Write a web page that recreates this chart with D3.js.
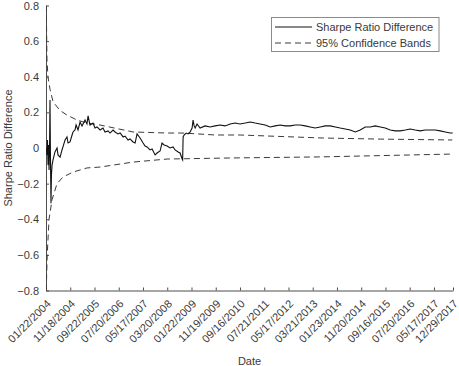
<!DOCTYPE html>
<html>
<head>
<meta charset="utf-8">
<script src="https://cdn.jsdelivr.net/npm/d3@7"></script>
<style>
    body { margin: 0; background: #fff; }
    svg { display: block; font-family: "Liberation Sans", Arial, sans-serif; }
</style>
</head>
<body>
<svg id="chart" width="459" height="366"></svg>
<script>
// observation index (trading days since 01/22/2004) and Sharpe ratio difference
const sharpeObs = [4, 8, 12, 17, 21, 25, 29, 33, 37, 41, 45, 50, 58, 74, 91, 99, 116, 132, 140, 157,
    173, 182, 198, 215, 223, 239, 248, 264, 281, 297, 322, 338, 347, 363, 388, 404, 421, 446, 470, 487,
    512, 528, 553, 570, 594, 611, 636, 652, 677, 693, 718, 735, 751, 776, 801, 817, 834, 858, 875, 900,
    916, 941, 957, 974, 999, 1023, 1048, 1065, 1090, 1106, 1123, 1127, 1131, 1139, 1156, 1172, 1189, 1205, 1213, 1222,
    1230, 1246, 1271, 1312, 1354, 1395, 1436, 1477, 1519, 1560, 1601, 1643, 1684, 1725, 1766, 1808, 1849, 1890,
    1931, 1973, 2014, 2055, 2097, 2138, 2179, 2220, 2262, 2303, 2344, 2386, 2427, 2468, 2509, 2551, 2592, 2633,
    2674, 2716, 2757, 2798, 2839, 2881, 2922, 2963, 3004, 3046, 3087, 3128, 3169, 3211, 3252, 3293, 3334, 3355];
const sharpeVal = [0, -0.039, 0.045, -0.096, 0.017, -0.124, -0.011, 0.27, -0.067, -0.31, -0.152, -0.096, -0.067, -0.022, 0, -0.039, -0.051, -0.011, 0.006, 0.045,
    0.062, 0.028, 0.034, 0.073, 0.09, 0.101, 0.129, 0.101, 0.146, 0.124, 0.157, 0.135, 0.18, 0.129, 0.14, 0.112, 0.118, 0.101, 0.112, 0.09,
    0.096, 0.084, 0.101, 0.09, 0.079, 0.084, 0.062, 0.067, 0.045, 0.051, 0.034, 0.028, 0.079, 0.056, 0.028, 0.011, 0.006, -0.011, -0.006, -0.039,
    -0.028, -0.017, 0.028, 0.017, 0.011, 0, 0.006, -0.011, -0.022, -0.028, -0.062, -0.067, 0.062, 0.073, 0.084, 0.079, 0.09, 0.112, 0.157, 0.124,
    0.112, 0.135, 0.112, 0.124, 0.118, 0.124, 0.129, 0.124, 0.135, 0.14, 0.135, 0.14, 0.146, 0.14, 0.135, 0.129, 0.118, 0.124,
    0.129, 0.124, 0.124, 0.129, 0.129, 0.124, 0.118, 0.112, 0.118, 0.124, 0.124, 0.118, 0.112, 0.107, 0.101, 0.09, 0.101,
    0.118, 0.118, 0.124, 0.118, 0.112, 0.101, 0.096, 0.096, 0.101, 0.107, 0.101, 0.096, 0.101, 0.101, 0.101, 0.096, 0.09, 0.084, 0.084];

// 95% confidence bands
const upperObs = [2, 8, 16, 33, 58, 116, 173, 256, 338, 446, 718, 999, 1131, 1395, 1601, 2286, 2757, 3351];
const upperVal = [0.8, 0.5, 0.4, 0.33, 0.26, 0.21, 0.185, 0.157, 0.14, 0.129, 0.09, 0.084, 0.084, 0.073, 0.073, 0.056, 0.05, 0.045];
const lowerObs = [2, 10, 25, 50, 91, 140, 223, 338, 446, 718, 999, 1519, 2262, 3351];
const lowerVal = [-0.8, -0.6, -0.4, -0.29, -0.2, -0.163, -0.135, -0.112, -0.107, -0.079, -0.062, -0.056, -0.05, -0.034];

// x ticks
const tickObs = [0, 200, 400, 600, 800, 1000, 1200, 1400, 1600, 1800, 2000, 2200, 2400, 2600, 2800, 3000, 3200, 3357];
const tickLabels = ["01/22/2004", "11/18/2004", "09/22/2005", "07/20/2006", "05/17/2007", "03/20/2008",
    "01/22/2009", "11/19/2009", "09/16/2010", "07/21/2011", "05/17/2012", "03/21/2013", "01/23/2014",
    "11/20/2014", "09/16/2015", "07/20/2016", "05/17/2017", "12/29/2017"];
const yTicks = [-0.8, -0.6, -0.4, -0.2, 0, 0.2, 0.4, 0.6, 0.8];

const legendItems = ["Sharpe Ratio Difference", "95% Confidence Bands"];

const plotLeft = 46, plotRight = 453, plotTop = 5.5, plotBottom = 290.5;
const axisColor = "#4d4d4d";
const textColor = "#3a3a3a";

const svg = d3.select("#chart");

const xScale = d3.scaleLinear().domain([0, 3357]).range([plotLeft, plotRight]);
const yScale = d3.scaleLinear().domain([-0.8, 0.8]).range([plotBottom, plotTop]);

svg.append("defs").append("clipPath").attr("id", "plotclip")
    .append("rect")
    .attr("x", plotLeft).attr("y", plotTop)
    .attr("width", plotRight - plotLeft).attr("height", plotBottom - plotTop);

// x-axis
const xAxis = svg.append("g")
    .attr("transform", `translate(0, ${plotBottom})`)
    .call(d3.axisBottom(xScale)
        .tickValues(tickObs)
        .tickSizeInner(-3)
        .tickSizeOuter(0)
        .tickFormat((d, i) => tickLabels[i]));
xAxis.select(".domain").attr("stroke", axisColor);
xAxis.selectAll(".tick line").attr("stroke", axisColor);
xAxis.selectAll(".tick text")
    .attr("x", 0).attr("y", 0).attr("dy", 0)
    .attr("text-anchor", "end")
    .attr("transform", "translate(5, 14) rotate(-45)")
    .attr("fill", textColor)
    .style("font-size", "11px");

// y-axis
const yAxis = svg.append("g")
    .attr("transform", `translate(${plotLeft}, 0)`)
    .call(d3.axisLeft(yScale)
        .tickValues(yTicks)
        .tickSizeInner(-3)
        .tickSizeOuter(0)
        .tickPadding(7)
        .tickFormat(d => d === 0 ? "0" : d3.format(".1f")(d)));
yAxis.select(".domain").attr("stroke", axisColor);
yAxis.selectAll(".tick line").attr("stroke", axisColor);
yAxis.selectAll(".tick text")
    .attr("fill", textColor)
    .style("font-size", "11px");

// axis titles
svg.append("text")
    .attr("x", (plotLeft + plotRight) / 2)
    .attr("y", 365)
    .attr("text-anchor", "middle")
    .attr("fill", textColor)
    .style("font-size", "11px")
    .text("Date");

svg.append("text")
    .attr("transform", `translate(12, ${(plotTop + plotBottom) / 2}) rotate(-90)`)
    .attr("text-anchor", "middle")
    .attr("fill", textColor)
    .style("font-size", "11px")
    .text("Sharpe Ratio Difference");

// lines
const line = d3.line()
    .x(d => xScale(d[0]))
    .y(d => yScale(d[1]));

const plot = svg.append("g").attr("clip-path", "url(#plotclip)");

plot.append("path")
    .datum(upperObs.map((o, i) => [o, upperVal[i]]))
    .attr("d", line)
    .attr("fill", "none")
    .attr("stroke", "#3a3a3a")
    .attr("stroke-width", 1)
    .attr("stroke-dasharray", "6,4");

plot.append("path")
    .datum(lowerObs.map((o, i) => [o, lowerVal[i]]))
    .attr("d", line)
    .attr("fill", "none")
    .attr("stroke", "#3a3a3a")
    .attr("stroke-width", 1)
    .attr("stroke-dasharray", "6,4");

plot.append("path")
    .datum(sharpeObs.map((o, i) => [o, sharpeVal[i]]))
    .attr("d", line)
    .attr("fill", "none")
    .attr("stroke", "#111")
    .attr("stroke-width", 1.1);

// legend
const legend = svg.append("g");
legend.append("rect")
    .attr("x", 271.5).attr("y", 17.5)
    .attr("width", 167.5).attr("height", 34)
    .attr("fill", "#fff")
    .attr("stroke", "#8a8a8a");

legendItems.forEach((label, i) => {
    const ly = 27 + i * 16;
    legend.append("line")
        .attr("x1", 275).attr("x2", 312)
        .attr("y1", ly).attr("y2", ly)
        .attr("stroke", i === 0 ? "#111" : "#3a3a3a")
        .attr("stroke-dasharray", i === 0 ? null : "6,4");
    legend.append("text")
        .attr("x", 316).attr("y", ly)
        .attr("dominant-baseline", "central")
        .attr("fill", textColor)
        .style("font-size", "11px")
        .text(label);
});
</script>
</body>
</html>
